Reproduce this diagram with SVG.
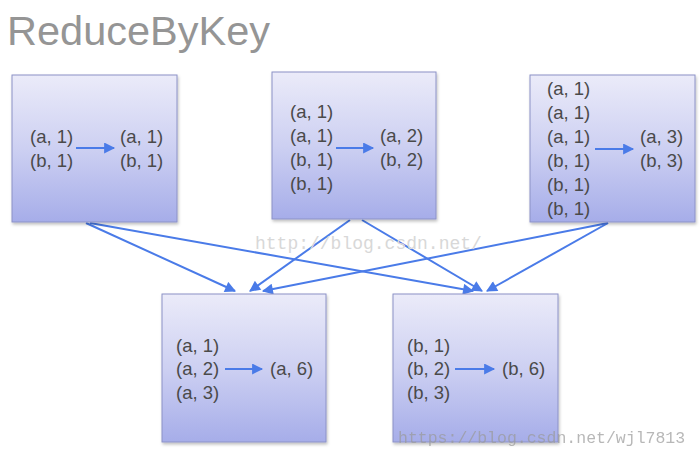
<svg xmlns="http://www.w3.org/2000/svg" width="700" height="457" viewBox="0 0 700 457">
<defs>
<linearGradient id="g" x1="0" y1="0" x2="0" y2="1">
<stop offset="0" stop-color="#ebebf9"/>
<stop offset="0.5" stop-color="#cdd0f2"/>
<stop offset="1" stop-color="#a6ade9"/>
</linearGradient>
<marker id="ah" viewBox="0 0 10 10" refX="9" refY="5" markerWidth="6" markerHeight="5.5" orient="auto" markerUnits="strokeWidth">
<path d="M0,0 L10,5 L0,10 Z" fill="#4a7be8"/>
</marker>
<filter id="sh" x="-10%" y="-10%" width="130%" height="130%">
<feDropShadow dx="1" dy="2" stdDeviation="1.5" flood-color="#000" flood-opacity="0.25"/>
</filter>
</defs>
<style>
.box{fill:url(#g);stroke:#8c92c6;stroke-width:1;filter:url(#sh)}
.t{font-family:"Liberation Sans",Arial,sans-serif;font-size:18.5px;fill:#4a4a4a}
.ln{stroke:#4a7be8;stroke-width:2;fill:none;marker-end:url(#ah)}
.title{font-family:"Liberation Sans",Arial,sans-serif;font-size:41.5px;fill:#959595}
.wm{font-family:"Liberation Mono","Courier New",monospace;font-size:18px;fill:#d8d8d8}
.wm2{font-family:"Liberation Mono","Courier New",monospace;font-size:16.5px;fill:#9a9a9a;opacity:0.7}
</style>
<rect width="700" height="457" fill="#fff"/>
<text class="title" x="7" y="45">ReduceByKey</text>

<g id="connectors">
<line class="ln" x1="86" y1="223" x2="235" y2="291"/>
<line class="ln" x1="90" y1="223" x2="473" y2="291"/>
<line class="ln" x1="350" y1="220" x2="250" y2="291"/>
<line class="ln" x1="362" y1="220" x2="482" y2="291"/>
<line class="ln" x1="608" y1="223" x2="263" y2="291"/>
<line class="ln" x1="608" y1="223" x2="487" y2="291"/>
</g>

<g id="node1">
<rect class="box" x="12" y="75" width="165" height="147"/>
<text class="t" x="30" y="143">(a, 1)</text>
<text class="t" x="30" y="167">(b, 1)</text>
<line class="ln" x1="76" y1="148" x2="114" y2="148"/>
<text class="t" x="120" y="143">(a, 1)</text>
<text class="t" x="120" y="167">(b, 1)</text>
</g>

<g id="node2">
<rect class="box" x="272" y="72" width="164" height="147"/>
<text class="t" x="290" y="118">(a, 1)</text>
<text class="t" x="290" y="142">(a, 1)</text>
<text class="t" x="290" y="166">(b, 1)</text>
<text class="t" x="290" y="190">(b, 1)</text>
<line class="ln" x1="336" y1="148" x2="373" y2="148"/>
<text class="t" x="380" y="142">(a, 2)</text>
<text class="t" x="380" y="166">(b, 2)</text>
</g>

<g id="node3">
<rect class="box" x="530" y="75" width="165" height="147"/>
<text class="t" x="547" y="95">(a, 1)</text>
<text class="t" x="547" y="119">(a, 1)</text>
<text class="t" x="547" y="143">(a, 1)</text>
<text class="t" x="547" y="167">(b, 1)</text>
<text class="t" x="547" y="191">(b, 1)</text>
<text class="t" x="547" y="215">(b, 1)</text>
<line class="ln" x1="595" y1="149" x2="633" y2="149"/>
<text class="t" x="640" y="143">(a, 3)</text>
<text class="t" x="640" y="167">(b, 3)</text>
</g>

<g id="node4">
<rect class="box" x="162" y="294" width="164" height="148"/>
<text class="t" x="176" y="352">(a, 1)</text>
<text class="t" x="176" y="375">(a, 2)</text>
<text class="t" x="176" y="399">(a, 3)</text>
<line class="ln" x1="225" y1="369" x2="262" y2="369"/>
<text class="t" x="270" y="375">(a, 6)</text>
</g>

<g id="node5">
<rect class="box" x="393" y="294" width="165" height="148"/>
<text class="t" x="407" y="352">(b, 1)</text>
<text class="t" x="407" y="375">(b, 2)</text>
<text class="t" x="407" y="399">(b, 3)</text>
<line class="ln" x1="455" y1="369" x2="494" y2="369"/>
<text class="t" x="502" y="375">(b, 6)</text>
</g>

<text class="wm" x="255" y="249">http://blog.csdn.net/</text>
<text class="wm2" x="398" y="443">https://blog.csdn.net/wjl7813</text>
</svg>
